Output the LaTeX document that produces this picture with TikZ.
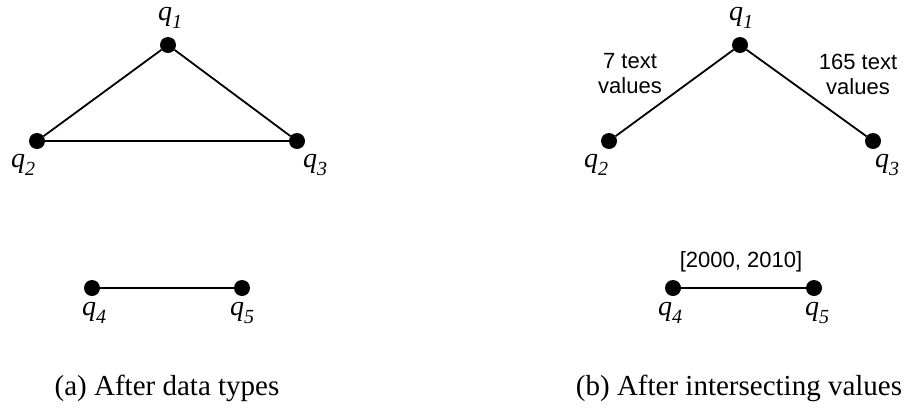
\documentclass[tikz,border=0pt]{standalone}
\usepackage{fontspec}
\setmainfont{Liberation Serif}
\newfontfamily\labelsans{Liberation Sans}
% vertex name: italic q with a large, deep subscript
\newcommand{\qname}[1]{q\raisebox{-0.3em}{\fontsize{20}{20}\selectfont #1}}
\begin{document}
\begin{tikzpicture}[x=1pt,y=-1pt,
  vert/.style={circle,fill=black,inner sep=0pt,minimum size=16pt},
  edge/.style={line width=1.8pt},
  qlab/.style={font=\fontsize{28}{30}\selectfont\itshape,inner sep=0pt},
  elab/.style={font=\labelsans\fontsize{22}{25}\selectfont,align=center,inner sep=0pt},
  caption/.style={font=\fontsize{29}{31}\selectfont,inner sep=0pt}]
\useasboundingbox (0,0) rectangle (910,413);

% (a) graph after data types
\node[vert] (a1) at (168,45) {};
\node[vert] (a2) at (37,141) {};
\node[vert] (a3) at (297,141) {};
\node[vert] (a4) at (92,288) {};
\node[vert] (a5) at (242,288) {};
\node[qlab] (la1) at (170,18) {\qname{1}};
\node[qlab] (la2) at (23,165) {\qname{2}};
\node[qlab] (la3) at (315,165) {\qname{3}};
\node[qlab] (la4) at (94,313) {\qname{4}};
\node[qlab] (la5) at (242,313) {\qname{5}};
\draw[edge] (a1) -- (a2);
\draw[edge] (a1) -- (a3);
\draw[edge] (a2) -- (a3);
\draw[edge] (a4) -- (a5);
\node[caption] (capa) at (167,388) {(a) After data types};

% (b) graph after intersecting values
\node[vert] (b1) at (740,45) {};
\node[vert] (b2) at (609,141) {};
\node[vert] (b3) at (873,141) {};
\node[vert] (b4) at (673,288) {};
\node[vert] (b5) at (814,288) {};
\node[qlab] (lb1) at (741,18) {\qname{1}};
\node[qlab] (lb2) at (596,165) {\qname{2}};
\node[qlab] (lb3) at (887,165) {\qname{3}};
\node[qlab] (lb4) at (670,313) {\qname{4}};
\node[qlab] (lb5) at (817,313) {\qname{5}};
\draw[edge] (b1) -- (b2);
\draw[edge] (b1) -- (b3);
\draw[edge] (b4) -- (b5);
\node[elab] (e12) at (630,74) {7 text\\values};
\node[elab] (e13) at (858,74) {165 text\\values};
\node[elab] (e45) at (741,262) {[2000, 2010]};
\node[caption] (capb) at (739,388) {(b) After intersecting values};
\end{tikzpicture}
\end{document}
